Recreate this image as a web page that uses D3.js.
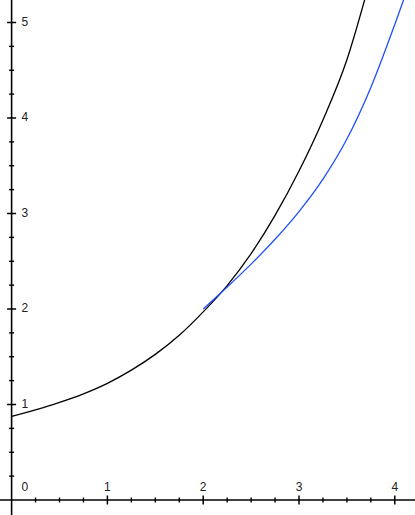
<!DOCTYPE html>
<html>
<head>
<meta charset="utf-8">
<script src="https://cdn.jsdelivr.net/npm/d3@7"></script>
<style>
  body { margin: 0; background: #fff; }
  svg { display: block; }
</style>
</head>
<body>
<div id="chart"></div>
<script>
var width = 415,
    height = 515;

// black curve
var blackX = [0, 0.25, 0.5, 0.75, 1, 1.25, 1.5, 1.75, 2, 2.25, 2.5, 2.75, 3, 3.25, 3.5, 3.7];
var blackY = [0.874, 0.944, 1.022, 1.112, 1.222, 1.36, 1.525, 1.725, 1.97, 2.245, 2.58, 2.98, 3.445, 3.98, 4.61, 5.29];

// blue curve, starts at (2, 2)
var blueX = [2, 2.25, 2.5, 2.75, 3, 3.25, 3.5, 3.75, 4, 4.1];
var blueY = [2, 2.23, 2.47, 2.73, 3.02, 3.36, 3.78, 4.32, 4.98, 5.26];

var xTicks = [0, 1, 2, 3, 4];
var yTicks = [1, 2, 3, 4, 5];
var minorStep = 0.25;

var x = d3.scaleLinear().domain([0, 4]).range([11.6, 394.8]);
var y = d3.scaleLinear().domain([0, 5]).range([500, 22.5]);

var svg = d3.select("#chart").append("svg")
  .attr("width", width)
  .attr("height", height);

// axes lines
svg.append("line")
  .attr("x1", 0).attr("x2", width)
  .attr("y1", y(0)).attr("y2", y(0))
  .style("stroke", "#000").style("stroke-width", 1.6);
svg.append("line")
  .attr("x1", x(0)).attr("x2", x(0))
  .attr("y1", 0).attr("y2", height)
  .style("stroke", "#000").style("stroke-width", 1.6);

// minor + major ticks
var xMinor = d3.range(minorStep, 4.3, minorStep).filter(function(v){ return v % 1 !== 0; });
var yMinor = d3.range(minorStep, 5.3, minorStep).filter(function(v){ return v % 1 !== 0; });

svg.selectAll(".xminor").data(xMinor).enter().append("line")
  .attr("x1", x).attr("x2", x)
  .attr("y1", y(0) - 2.5).attr("y2", y(0) + 2.5)
  .style("stroke", "#000").style("stroke-width", 1.4);
svg.selectAll(".xmajor").data(xTicks.slice(1)).enter().append("line")
  .attr("x1", x).attr("x2", x)
  .attr("y1", y(0) - 4.5).attr("y2", y(0) + 4.5)
  .style("stroke", "#000").style("stroke-width", 1.5);

svg.selectAll(".yminor").data(yMinor).enter().append("line")
  .attr("y1", y).attr("y2", y)
  .attr("x1", x(0) - 2.5).attr("x2", x(0) + 2.5)
  .style("stroke", "#000").style("stroke-width", 1.4);
svg.selectAll(".ymajor").data(yTicks).enter().append("line")
  .attr("y1", y).attr("y2", y)
  .attr("x1", x(0) - 4.5).attr("x2", x(0) + 4.5)
  .style("stroke", "#000").style("stroke-width", 1.5);

// tick labels
svg.selectAll(".xlab").data(xTicks).enter().append("text")
  .attr("x", function(d){ return d === 0 ? x(0) + 10 : x(d); })
  .attr("y", y(0) - 9.5)
  .style("text-anchor", function(d){ return d === 0 ? "start" : "middle"; })
  .style("font", "12px 'Liberation Sans', Arial, sans-serif")
  .style("fill", "#222")
  .text(function(d){ return d; });

svg.selectAll(".ylab").data(yTicks).enter().append("text")
  .attr("x", x(0) + 10)
  .attr("y", function(d){ return y(d) + 3; })
  .style("text-anchor", "start")
  .style("font", "12px 'Liberation Sans', Arial, sans-serif")
  .style("fill", "#222")
  .text(function(d){ return d; });

var line = d3.line()
  .curve(d3.curveMonotoneX)
  .x(function(d){ return x(d[0]); })
  .y(function(d){ return y(d[1]); });

svg.append("path")
  .datum(d3.zip(blackX, blackY))
  .attr("d", line)
  .style("fill", "none")
  .style("stroke", "#000")
  .style("stroke-width", 1.3);

svg.append("path")
  .datum(d3.zip(blueX, blueY))
  .attr("d", line)
  .style("fill", "none")
  .style("stroke", "#1f4fff")
  .style("stroke-width", 1.3);
</script>
</body>
</html>
